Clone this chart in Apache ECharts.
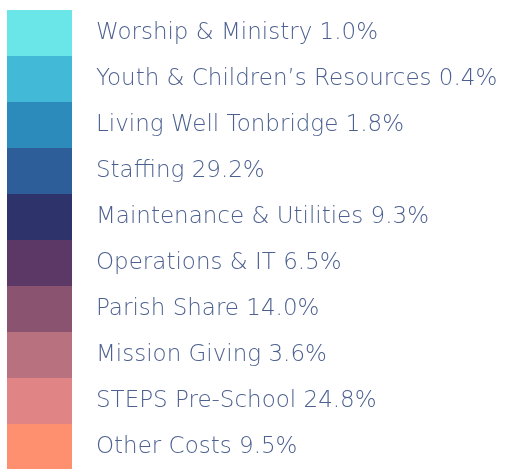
<!DOCTYPE html>
<html lang="en">
<head>
    <meta charset="UTF-8">
    <title>Budget</title>
    <script src="https://cdn.jsdelivr.net/npm/echarts@6/dist/echarts.min.js"></script>
    <style>
        html, body { margin: 0; padding: 0; background: #fff; }
    </style>
</head>
<body>
<div id="main" style="width: 506px;height:469px;"></div>
<script type="text/javascript">
    var categories = ['Worship & Ministry', 'Youth & Children\u2019s Resources', 'Living Well Tonbridge',
        'Staffing', 'Maintenance & Utilities', 'Operations & IT', 'Parish Share',
        'Mission Giving', 'STEPS Pre-School', 'Other Costs'];
    var shares = [1.0, 0.4, 1.8, 29.2, 9.3, 6.5, 14.0, 3.6, 24.8, 9.5];
    var colors = ['#6be6e8', '#42b9d6', '#2d8bbb', '#2d5e99', '#2e336c',
        '#5c3866', '#8a5370', '#b8717f', '#e08485', '#fe8f6f'];

    var myChart = echarts.init(document.getElementById('main'));

    var pieData = [];
    for (var i = 0; i < categories.length; i++) {
        pieData.push({ name: categories[i], value: shares[i] });
    }

    option = {
        color: colors,
        legend: {
            orient: 'vertical',
            left: 7,
            top: 10,
            height: 480,
            padding: 0,
            itemWidth: 65,
            itemHeight: 46,
            itemGap: 0,
            icon: 'rect',
            selectedMode: false,
            textStyle: {
                fontFamily: 'DejaVu Sans',
                fontWeight: 200,
                fontSize: 23,
                color: '#4d6190',
                padding: [2, 0, 0, 19]
            },
            formatter: function (name) {
                var idx = categories.indexOf(name);
                return name + ' ' + shares[idx].toFixed(1) + '%';
            }
        },
        series: [
            {
                type: 'pie',
                radius: [0, 0],
                center: [-100, -100],
                label: { show: false },
                silent: true,
                data: pieData
            }
        ]
    };
    myChart.setOption(option);
</script>
</body>
</html>
